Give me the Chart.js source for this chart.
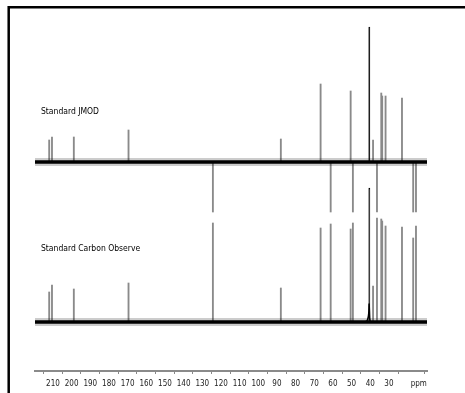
<!DOCTYPE html>
<html>
<head>
<meta charset="utf-8">
<script src="https://cdn.jsdelivr.net/npm/chart.js@4/dist/chart.umd.min.js"></script>
<style>
  html, body { margin: 0; padding: 0; background: #fff; }
  #wrap { position: relative; width: 465px; height: 393px; }
</style>
</head>
<body>
<div id="wrap"><canvas id="nmr" width="465" height="393"></canvas></div>
<script>
// 13C shifts (ppm) of the peaks seen in both spectra
const peakPpm = [212.0, 210.5, 198.8, 169.5, 124.3, 87.9, 66.6, 61.2, 50.5, 49.3, 40.5, 38.5, 36.4, 34.1, 33.6, 31.8, 23.0, 17.0, 15.5];
// JMOD: CH/CH3 up, C/CH2 down (the down ones are clipped)
const jmodHeights = [22, 25, 25, 32, -50, 23, 78, -50, 71, -50, 135, 22, -50, 69, 66, 66, 64, -50, -50];
// plain carbon observe, all positive
const carbonHeights = [30, 37, 33, 39, 99, 34, 94, 98, 93, 99, 134, 36, 104, 103, 101, 96, 95, 84, 96];
// broad foot under the solvent peak in the carbon trace
const footPpm = [43.0, 41.8, 41.2, 40.8, 40.6, 40.3, 40.0];
const footHeights = [0, 1, 4, 9, 18, 4, 0];

const tickValues = [210, 200, 190, 180, 170, 160, 150, 140, 130, 120, 110, 100, 90, 80, 70, 60, 50, 40, 30, 20, 14];
const tickLabels = ["210", "200", "190", "180", "170", "160", "150", "140", "130", "120", "110", "100", "90", "80", "70", "60", "50", "40", "30", "", "ppm"];

const traceTitles = ["Standard JMOD", "Standard Carbon Observe"];

const PPM_MAX = 219.6, PPM_MIN = 9.6;
const JMOD_BASE = 209, CARBON_BASE = 49;
const FONT = "'Liberation Sans Narrow', 'DejaVu Sans Condensed', 'Arial Narrow', sans-serif";

const SOLVENT = 40.5;

function peakBars(heights, base) {
  return peakPpm.map((p, i) => ({ x: p, y: [base, base + heights[i]] }));
}

function baseline(base) {
  return [{ x: PPM_MAX, y: base }, { x: PPM_MIN, y: base }];
}

const peakColor = (ctx) => (ctx.raw && ctx.raw.x === SOLVENT ? "#000" : "#8a8a8a");

const framePlugin = {
  id: "frame",
  afterDraw(chart) {
    const ctx = chart.ctx;
    ctx.save();
    ctx.strokeStyle = "#000";
    ctx.lineWidth = 2.5;
    ctx.beginPath();
    ctx.moveTo(8.7, 393);
    ctx.lineTo(8.7, 7.2);
    ctx.lineTo(465, 7.2);
    ctx.stroke();

    ctx.fillStyle = "#000";
    ctx.font = "8.5px " + FONT;
    ctx.textBaseline = "middle";
    ctx.fillText(traceTitles[0], 41, 112);
    ctx.fillText(traceTitles[1], 41, 249);
    ctx.restore();
  },
};

new Chart(document.getElementById("nmr"), {
  type: "line",
  data: {
    datasets: [
      {
        label: "JMOD noise",
        data: baseline(JMOD_BASE),
        borderColor: "rgba(0,0,0,0.2)",
        borderWidth: 8,
        pointRadius: 0,
      },
      {
        label: "JMOD baseline",
        data: baseline(JMOD_BASE),
        borderColor: "#000",
        borderWidth: 3.5,
        pointRadius: 0,
      },
      {
        label: "Carbon noise",
        data: baseline(CARBON_BASE),
        borderColor: "rgba(0,0,0,0.2)",
        borderWidth: 8,
        pointRadius: 0,
      },
      {
        label: "Carbon baseline",
        data: baseline(CARBON_BASE),
        borderColor: "#000",
        borderWidth: 3.5,
        pointRadius: 0,
      },
      {
        label: "Carbon foot",
        data: footPpm.map((p, i) => ({ x: p, y: CARBON_BASE + footHeights[i] })),
        borderColor: "#000",
        borderWidth: 1.5,
        pointRadius: 0,
        tension: 0.2,
      },
      {
        type: "bar",
        label: "JMOD",
        data: peakBars(jmodHeights, JMOD_BASE),
        backgroundColor: peakColor,
        borderColor: peakColor,
        borderWidth: (ctx) => (ctx.raw && ctx.raw.x === SOLVENT ? 0.5 : 0),
        borderSkipped: false,
        barThickness: 1.2,
        grouped: false,
      },
      {
        type: "bar",
        label: "Carbon",
        data: peakBars(carbonHeights, CARBON_BASE),
        backgroundColor: peakColor,
        borderColor: peakColor,
        borderWidth: (ctx) => (ctx.raw && ctx.raw.x === SOLVENT ? 1 : 0),
        borderSkipped: false,
        barThickness: 1.2,
        grouped: false,
      },
    ],
  },
  options: {
    responsive: false,
    animation: false,
    events: [],
    layout: { padding: { left: 35, right: 38, top: 7, bottom: 0 } },
    scales: {
      x: {
        type: "linear",
        reverse: true,
        min: PPM_MIN,
        max: PPM_MAX,
        offset: false,
        afterBuildTicks: (scale) => {
          scale.ticks = tickValues.map((v) => ({ value: v }));
        },
        afterFit: (scale) => {
          scale.height = 22;
        },
        ticks: {
          autoSkip: false,
          maxRotation: 0,
          padding: 5,
          color: "#222",
          font: { family: FONT, size: 8 },
          callback: (value) => tickLabels[tickValues.indexOf(value)],
        },
        grid: {
          drawOnChartArea: false,
          drawTicks: true,
          tickLength: 3,
          color: (ctx) => (ctx.tick && ctx.tick.value === 14 ? "rgba(0,0,0,0)" : "#888"),
        },
        border: { color: "#8a8a8a", width: 2 },
      },
      y: {
        display: false,
        min: 0,
        max: 364,
      },
    },
    plugins: {
      legend: { display: false },
      tooltip: { enabled: false },
    },
  },
  plugins: [framePlugin],
});
</script>
</body>
</html>
